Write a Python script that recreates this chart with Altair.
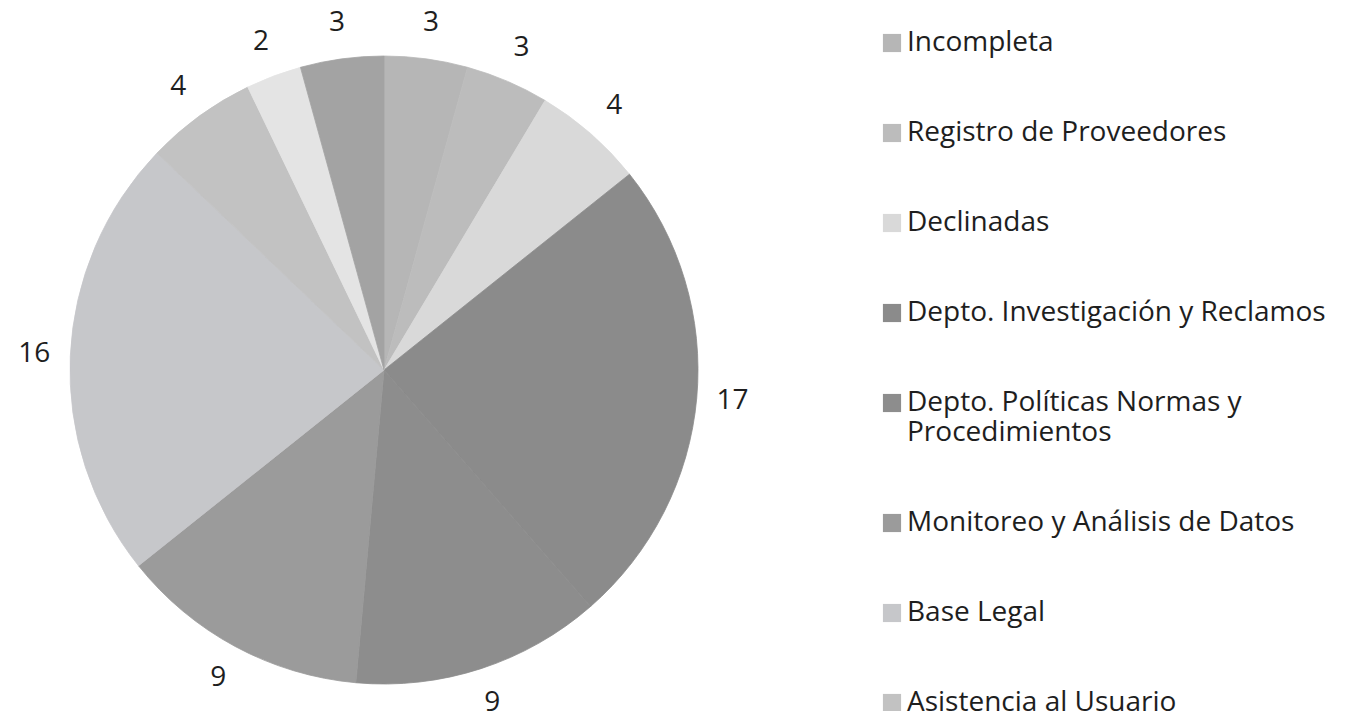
import altair as alt
import pandas as pd

categories = [
    "Incompleta",
    "Registro de Proveedores",
    "Declinadas",
    "Depto. Investigación y Reclamos",
    "Depto. Políticas Normas y Procedimientos",
    "Monitoreo y Análisis de Datos",
    "Base Legal",
    "Asistencia al Usuario",
    "Otras",
    "Sin clasificar",
]
values = [3, 3, 4, 17, 9, 9, 16, 4, 2, 3]
colors = ["#b6b6b6", "#bcbcbc", "#d9d9d9", "#8b8b8b", "#8d8d8d",
          "#9b9b9b", "#c6c7ca", "#c2c2c2", "#e4e4e4", "#a3a3a3"]
legend_shown = categories[:8]

df = pd.DataFrame({"cat": categories, "val": values, "idx": list(range(len(values)))})

label_expr = ("datum.label == 'Depto. Políticas Normas y Procedimientos' ? "
              "['Depto. Políticas Normas y', 'Procedimientos'] : datum.label")

color_scale = alt.Scale(domain=categories, range=colors)

base = alt.Chart(df).encode(
    theta=alt.Theta("val:Q", stack=True),
    order=alt.Order("idx:Q"),
    x=alt.value(371),
    y=alt.value(357),
)

pie = base.mark_arc(outerRadius=314, strokeWidth=0.8).encode(
    color=alt.Color(
        "cat:N",
        sort=categories,
        scale=color_scale,
        legend=alt.Legend(
            title=None,
            orient="none",
            legendX=865,
            legendY=16,
            values=legend_shown,
            symbolType="square",
            symbolSize=330,
            symbolStrokeWidth=0,
            symbolOpacity=1,
            labelFont="Open Sans",
            labelFontSize=28,
            labelColor="#1e1e1e",
            labelOffset=1,
            labelLimit=600,
            labelExpr=label_expr,
            rowPadding=62,
            padding=0,
        ),
    ),
    stroke=alt.Stroke("cat:N", sort=categories, scale=color_scale, legend=None),
)

labels = base.mark_text(radius=350, font="Open Sans", fontSize=28, color="#1e1e1e",
                        align="center", baseline="middle").encode(
    text=alt.Text("val:Q")
)

chart = (pie + labels).properties(
    width=1320, height=693, autosize=alt.AutoSizeParams(type="none"), padding=5
).configure_view(stroke=None)

chart.save("out.html", embed_options={"renderer": "svg", "actions": False})
